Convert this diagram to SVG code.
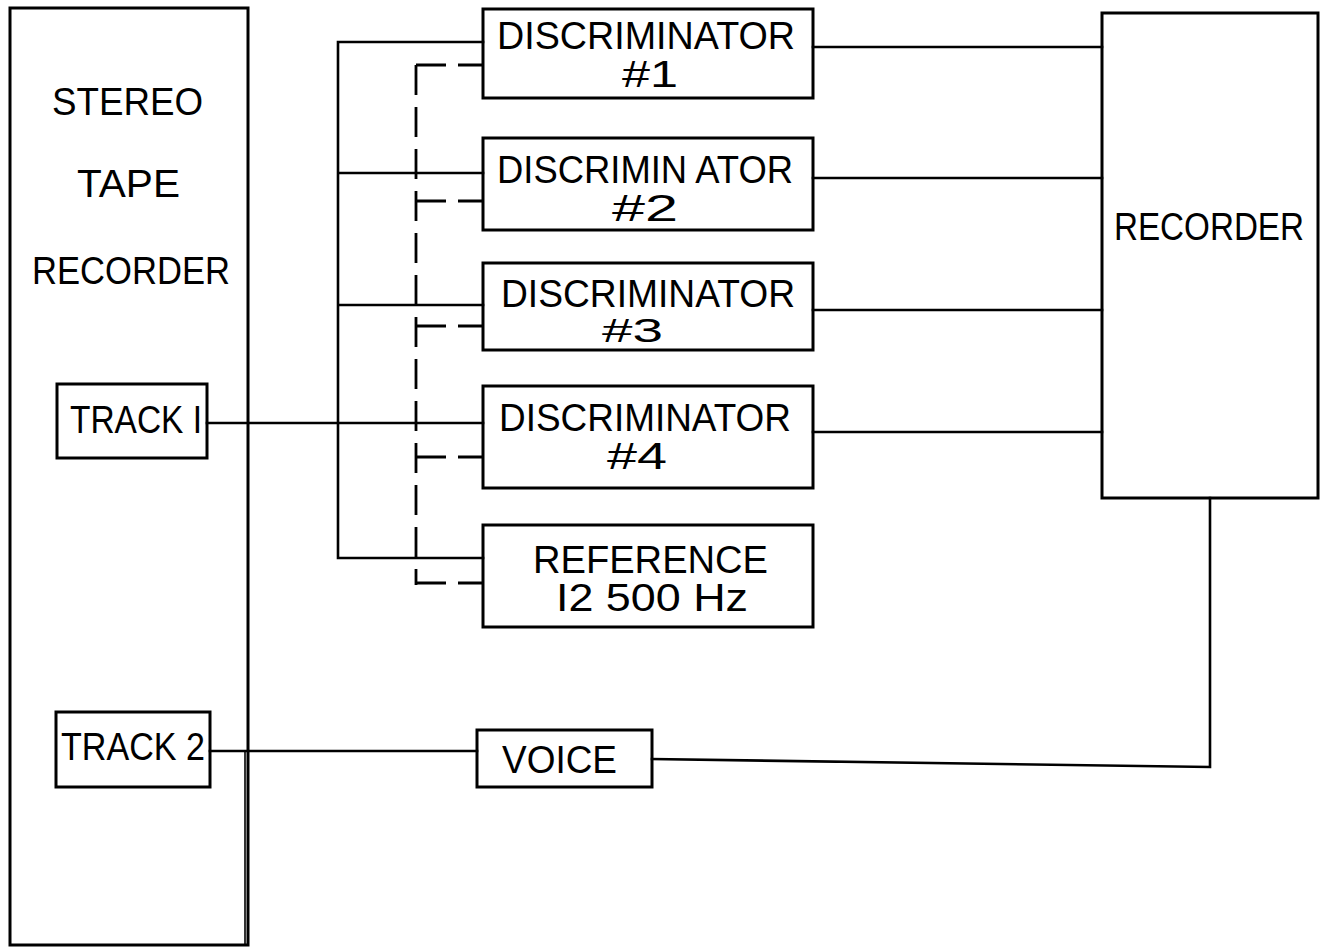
<svg xmlns="http://www.w3.org/2000/svg" width="1324" height="949" viewBox="0 0 1324 949">
<style>
.box{fill:none;stroke:#000;stroke-width:3}
.ln{fill:none;stroke:#000;stroke-width:2.6;stroke-linecap:square}
.dash{fill:none;stroke:#000;stroke-width:2.8;stroke-dasharray:30 12}
text{font-family:"Liberation Sans","DejaVu Sans",sans-serif;font-size:38px;fill:#000}
.s{font-size:36px}
.t{font-size:33px}
</style>
<rect width="1324" height="949" fill="#fff"/>
<g id="connectors">
<path class="ln" d="M338,42 V558 M338,42 H483 M338,173 H483 M338,305 H483 M338,558 H483"/>
<path class="ln" d="M207,423 H483"/>
<path class="dash" d="M416,65 V585"/>
<path class="dash" d="M416,65 H483 M416,201 H483 M416,326 H483 M416,457 H483 M416,583 H483"/>
<path class="ln" d="M813,47 H1102 M813,178 H1102 M813,310 H1102 M813,432 H1102"/>
<path class="ln" d="M1210,498 V767 L652,759"/>
<path class="ln" d="M210,751 H477"/>
<path fill="none" stroke="#000" stroke-width="1.6" d="M245,751 V945"/>
</g>
<g id="stereo-tape-recorder">
<rect class="box" x="10" y="8" width="238" height="937"/>
<text x="52" y="115" textLength="151" lengthAdjust="spacingAndGlyphs">STEREO</text>
<text x="77" y="197" textLength="103" lengthAdjust="spacingAndGlyphs">TAPE</text>
<text x="32" y="284" textLength="198" lengthAdjust="spacingAndGlyphs">RECORDER</text>
</g>
<g id="track1">
<rect class="box" x="57" y="384" width="150" height="74"/>
<text x="70" y="433" textLength="132" lengthAdjust="spacingAndGlyphs">TRACK I</text>
</g>
<g id="track2">
<rect class="box" x="56" y="712" width="154" height="75"/>
<text x="61" y="760" textLength="144" lengthAdjust="spacingAndGlyphs">TRACK 2</text>
</g>
<g id="disc1">
<rect class="box" x="483" y="9" width="330" height="89"/>
<text x="497" y="49" textLength="298" lengthAdjust="spacingAndGlyphs">DISCRIMINATOR</text>
<text class="s" x="622" y="87" textLength="56" lengthAdjust="spacingAndGlyphs">#1</text>
</g>
<g id="disc2">
<rect class="box" x="483" y="138" width="330" height="92"/>
<text x="497" y="183" textLength="296" lengthAdjust="spacingAndGlyphs">DISCRIMIN ATOR</text>
<text class="s" x="612" y="221" textLength="66" lengthAdjust="spacingAndGlyphs">#2</text>
</g>
<g id="disc3">
<rect class="box" x="483" y="263" width="330" height="87"/>
<text x="501" y="307" textLength="294" lengthAdjust="spacingAndGlyphs">DISCRIMINATOR</text>
<text class="t" x="602" y="342" textLength="61" lengthAdjust="spacingAndGlyphs">#3</text>
</g>
<g id="disc4">
<rect class="box" x="483" y="386" width="330" height="102"/>
<text x="499" y="431" textLength="292" lengthAdjust="spacingAndGlyphs">DISCRIMINATOR</text>
<text class="s" x="607" y="469" textLength="60" lengthAdjust="spacingAndGlyphs">#4</text>
</g>
<g id="reference">
<rect class="box" x="483" y="525" width="330" height="102"/>
<text x="533" y="573" textLength="235" lengthAdjust="spacingAndGlyphs">REFERENCE</text>
<text x="556" y="611" textLength="192" lengthAdjust="spacingAndGlyphs">I2 500 Hz</text>
</g>
<g id="voice">
<rect class="box" x="477" y="730" width="175" height="57"/>
<text x="502" y="773" textLength="115" lengthAdjust="spacingAndGlyphs">VOICE</text>
</g>
<g id="recorder">
<rect class="box" x="1102" y="13" width="216" height="485"/>
<text x="1114" y="240" font-size="36" textLength="190" lengthAdjust="spacingAndGlyphs">RECORDER</text>
</g>
</svg>
